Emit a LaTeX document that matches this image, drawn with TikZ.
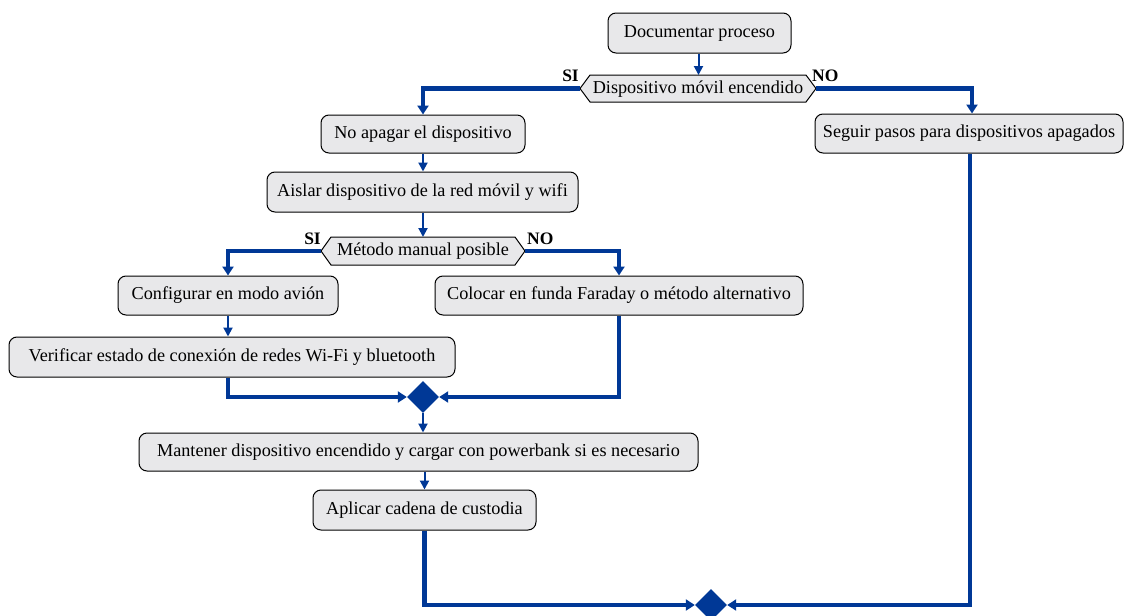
\documentclass[tikz,border=0pt]{standalone}
\usepackage{fontspec}
\setmainfont{Liberation Serif}
\usetikzlibrary{arrows.meta,shapes.geometric}
\definecolor{flow}{RGB}{0,56,150}
\definecolor{boxfill}{RGB}{232,232,234}
\tikzset{
  act/.style={draw=black, line width=1pt, fill=boxfill, rounded corners=8pt, inner sep=0pt, font=\fontsize{18.2}{21}\selectfont, anchor=center},
  hexlbl/.style={inner sep=0pt, font=\fontsize{18.2}{21}\selectfont},
  hexline/.style={draw=black, line width=1pt, fill=boxfill},
  thin/.style={draw=flow, line width=2pt, -{Triangle[length=9pt,width=9pt]}},
  thick/.style={draw=flow, line width=4.5pt, -{Triangle[length=9pt,width=11pt]}},
  merge/.style={diamond, fill=flow, inner sep=0pt, minimum width=32pt, minimum height=32pt},
  yn/.style={font=\fontsize{17.5}{20}\selectfont\bfseries, inner sep=0pt}
}
\begin{document}
\begin{tikzpicture}[x=1pt,y=-1pt]
\useasboundingbox (0,0) rectangle (1125,616);
% nodes
\node[act, minimum width=183pt, minimum height=40pt] (doc) at (699.5,33) {Documentar proceso};
% hexagon 1
\draw[hexline] (580,88.5) -- (590,75) -- (806,75) -- (816,88.5) -- (806,102) -- (590,102) -- cycle;
\node[hexlbl] (d1) at (698,89) {Dispositivo móvil encendido};
\coordinate (d1top) at (698.5,75);
\coordinate (d1l) at (580,88.5);
\coordinate (d1r) at (816,88.5);
\node[yn, anchor=south east] (si1) at (579,82) {SI};
\node[yn, anchor=south west] (no1) at (812,82) {NO};

\node[act, minimum width=204pt, minimum height=38pt] (noap) at (423,134) {No apagar el dispositivo};
\node[act, minimum width=308pt, minimum height=39pt] (seg) at (969,133.5) {Seguir pasos para dispositivos apagados};
\node[act, minimum width=311pt, minimum height=40pt] (ais) at (422.5,192) {Aislar dispositivo de la red móvil y wifi};
% hexagon 2
\draw[hexline] (321,251) -- (331,237) -- (515,237) -- (525,251) -- (515,265) -- (331,265) -- cycle;
\node[hexlbl] (d2) at (423,251.5) {Método manual posible};
\coordinate (d2top) at (423,237);
\coordinate (d2l) at (321,251);
\coordinate (d2r) at (525,251);
\node[yn, anchor=south east] (si2) at (321,245) {SI};
\node[yn, anchor=south west] (no2) at (527,245) {NO};

\node[act, minimum width=220pt, minimum height=39pt] (conf) at (228,295.5) {Configurar en modo avión};
\node[act, minimum width=368pt, minimum height=39pt] (col) at (619,295.5) {Colocar en funda Faraday o método alternativo};
\node[act, minimum width=446pt, minimum height=40pt] (ver) at (232,357) {Verificar estado de conexión de redes Wi-Fi y bluetooth};
\node[merge] (m1) at (423,397) {};
\node[act, minimum width=559pt, minimum height=38pt] (mant) at (418.5,452) {Mantener dispositivo encendido y cargar con powerbank si es necesario};
\node[act, minimum width=223pt, minimum height=40pt] (apl) at (424.5,510) {Aplicar cadena de custodia};
\node[merge] (m2) at (711,605) {};

% connectors
\draw[thin] (doc.south -| d1top) -- (d1top);
\draw[thick] (d1l) -| (noap.north);
\draw[thick] (d1r) -| ([xshift=3pt]seg.north);
\draw[thin] (noap.south) -- (noap.south |- ais.north);
\draw[thin] (ais.south -| d2top) -- (d2top);
\draw[thick] (d2l) -| (conf.north);
\draw[thick] (d2r) -| (col.north);
\draw[thin] (conf.south) -- (conf.south |- ver.north);
\draw[thick] (conf.south |- ver.south) |- (m1.west);
\draw[thick] (col.south) |- (m1.east);
\draw[thin] (m1.south) -- (m1.south |- mant.north);
\draw[thin] (mant.south -| apl.south) -- (apl.north);
\draw[thick] (apl.south) |- (m2.west);
\draw[thick] ([xshift=1pt]seg.south) |- (m2.east);
\end{tikzpicture}
\end{document}
